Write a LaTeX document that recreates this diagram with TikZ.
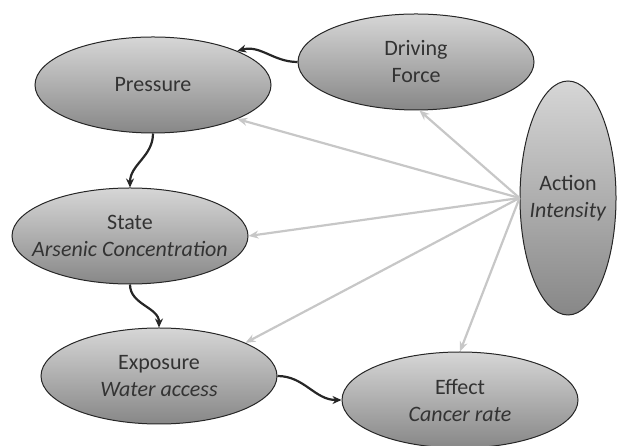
\documentclass[tikz,border=0pt]{standalone}
\usepackage{fontspec}
\setmainfont{Carlito}
\usetikzlibrary{shapes.geometric,arrows.meta}

\begin{document}
\begin{tikzpicture}[x=1pt,y=1pt,
	blob/.style={ellipse,draw=black!85,line width=1pt,top color=black!16,bottom color=black!47,
		minimum width=236pt,minimum height=96pt,inner xsep=-30pt,inner ysep=0pt,align=center,text=black!80,
		font=\fontsize{22}{27}\selectfont},
	flow/.style={line width=2.2pt,black!85,-{Stealth[length=9pt,width=8pt]}},
	act/.style={line width=2.2pt,black!22,-{Stealth[length=10pt,width=8pt]}}]
	\useasboundingbox (0,0) rectangle (617,446);
	\node[blob] (pressure) at (153,361) {Pressure};
	\node[blob] (driving) at (416,384) {Driving\\Force};
	\node[blob,minimum width=96pt,minimum height=234pt] (action) at (568,248) {Action\\\textit{Intensity}};
	\node[blob] (state) at (130,210) {State\\\textit{Arsenic Concentration}};
	\node[blob] (exposure) at (159,70) {Exposure\\\textit{Water access}};
	\node[blob] (effect) at (460,46) {Effect\\\textit{Cancer rate}};
	\draw[act] (action.west) -- (driving.-86);
	\draw[act] (action.west) -- (pressure.-22);
	\draw[act] (action.west) -- (state.east);
	\draw[act] (action.west) -- (exposure.21);
	\draw[act] (action.west) -- (effect.north);
	\draw[flow] (driving.west) to[out=180,in=15] (pressure.22);
	\draw[flow] (pressure.south) to[out=-90,in=90] (state.north);
	\draw[flow] (state.south) to[out=-90,in=90] (exposure.north);
	\draw[flow] (exposure.east) to[out=0,in=180] (effect.west);
\end{tikzpicture}
\end{document}
